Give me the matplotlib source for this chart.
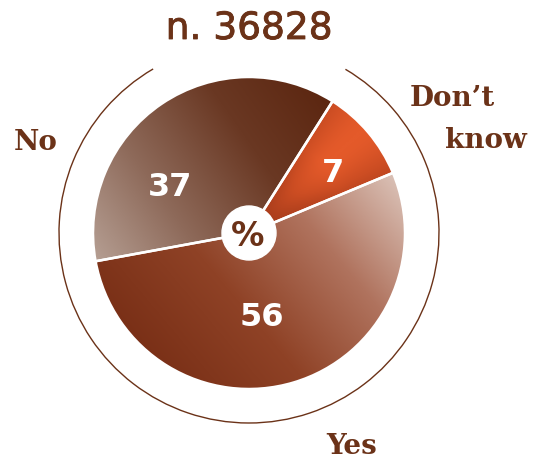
import numpy as np
import matplotlib
matplotlib.use("Agg")
import matplotlib.pyplot as plt
import matplotlib.patheffects as pe
from matplotlib.colors import LinearSegmentedColormap
from matplotlib.patches import Arc, Circle

# Data (labels show rounded %, slice sizes)
categories = ["Don\u2019t know", "Yes", "No"]
label_values = [7, 56, 37]
slice_shares = [9.7, 53.4, 36.9]
sample_size = 36828

brown = "#6b3218"

fig = plt.figure(figsize=(5.44, 4.62), dpi=100)
ax = fig.add_axes([0, 0, 1, 1])

# pixel -> data helper (pie centre at px (249, 233), radius 156 px)
CX, CY, R = 249, 233, 156
def px(x, y):
    return (x - CX) / R, (CY - y) / R

wedges, _ = ax.pie(slice_shares, startangle=57.6, counterclock=False,
                   center=(0, 0), radius=1,
                   wedgeprops=dict(facecolor="none", edgecolor="white", linewidth=1.8, zorder=3))

# gradient fills, one per wedge
n = 400
xs = np.linspace(-1, 1, n)
X, Y = np.meshgrid(xs, xs[::-1])

def linear(angle_deg):
    a = np.radians(angle_deg)
    t = X * np.cos(a) + Y * np.sin(a)
    return (t + 1) / 2

grad_specs = {
    "Yes": (linear(40), ["#7a3017", "#8f4226", "#b0735e", "#ddc6bc"]),
    "No": (linear(35), ["#bba69b", "#8e6a5a", "#6a3823", "#5a240e"]),
}
# don't know: bright in the middle of the slice, darker towards the edges/centre
ang = np.degrees(np.arctan2(Y, X))
rad = np.hypot(X, Y)
dk_t = np.clip(np.exp(-((ang - 42) / 18) ** 2) * np.clip((rad - 0.15) / 0.5, 0, 1), 0, 1)
grad_specs["Don\u2019t know"] = (dk_t, ["#a93d1c", "#cc4d23", "#e45a2a"])

for wedge, cat in zip(wedges, categories):
    field, stops = grad_specs[cat]
    cmap = LinearSegmentedColormap.from_list(cat, stops)
    im = ax.imshow(cmap(field), extent=(-1, 1, -1, 1), zorder=2, interpolation="bilinear")
    im.set_clip_path(wedge)

# outer thin ring, open at the top for the title
ring = Arc((0, 0), 2 * 190 / R, 2 * 190 / R, theta1=120.3, theta2=419.5,
           color=brown, linewidth=1.0, zorder=1)
ax.add_patch(ring)

# centre badge
ax.add_patch(Circle((0, 0), 27 / R, facecolor="white", edgecolor="white", zorder=4))
ax.text(*px(248, 236), "%", ha="center", va="center", fontsize=24,
        fontweight="bold", color=brown, family="DejaVu Sans", zorder=5)

# values inside slices
value_pos = {"No": (170, 188), "Don\u2019t know": (333, 173), "Yes": (262, 318)}
for cat, val in zip(categories, label_values):
    ax.text(*px(*value_pos[cat]), str(val), ha="center", va="center", fontsize=23,
            fontweight="bold", color="white", family="DejaVu Sans", zorder=5)

# category labels
lab_kw = dict(fontsize=20, fontweight="bold", color=brown, family="DejaVu Serif",
              va="center")
ax.text(*px(36, 142), "No", ha="center", **lab_kw)
ax.text(*px(452, 99), "Don\u2019t", ha="center", **lab_kw)
ax.text(*px(486, 140), "know", ha="center", **lab_kw)
ax.text(*px(352, 446), "Yes", ha="center", **lab_kw)

# title (slightly heavier than regular)
ax.text(*px(249, 29), f"n. {sample_size}", ha="center", va="center", fontsize=27,
        color=brown, family="DejaVu Sans",
        path_effects=[pe.withStroke(linewidth=0.6, foreground=brown)])

ax.set_xlim((0 - CX) / R, (544 - CX) / R)
ax.set_ylim((CY - 462) / R, CY / R)
ax.set_aspect("auto")
ax.axis("off")

fig.savefig("out.png", dpi=100)
